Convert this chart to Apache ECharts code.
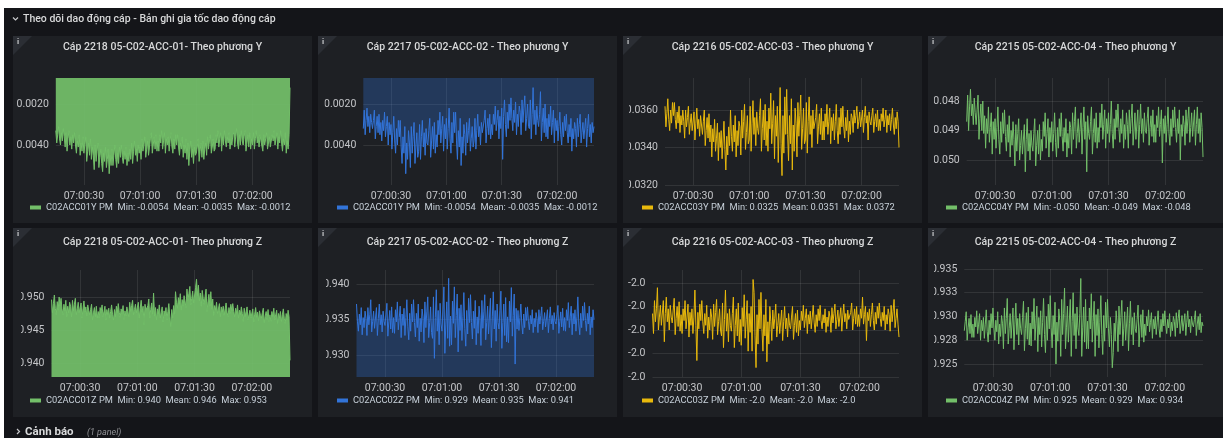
<!DOCTYPE html>
<html lang="vi">
<head>
<meta charset="utf-8">
<title>Theo dõi dao động cáp</title>
<script src="https://cdn.jsdelivr.net/npm/echarts@6/dist/echarts.min.js"></script>
<style>
  html, body { margin: 0; padding: 0; background: #ffffff; }
  #dash { width: 1223px; height: 438px; }
</style>
</head>
<body>
<div id="dash"></div>
<script>
// ---------- dashboard text ----------
const rowTitle = 'Theo dõi dao động cáp - Bản ghi gia tốc dao động cáp';
const alertRowTitle = 'Cảnh báo';
const alertRowNote = '(1 panel)';

const panelTitles = [
  'Cáp 2218 05-C02-ACC-01- Theo phương Y',
  'Cáp 2217 05-C02-ACC-02 - Theo phương Y',
  'Cáp 2216 05-C02-ACC-03 - Theo phương Y',
  'Cáp 2215 05-C02-ACC-04 - Theo phương Y',
  'Cáp 2218 05-C02-ACC-01- Theo phương Z',
  'Cáp 2217 05-C02-ACC-02 - Theo phương Z',
  'Cáp 2216 05-C02-ACC-03 - Theo phương Z',
  'Cáp 2215 05-C02-ACC-04 - Theo phương Z'
];
const seriesNames = ['C02ACC01Y PM', 'C02ACC01Y PM', 'C02ACC03Y PM', 'C02ACC04Y PM',
                     'C02ACC01Z PM', 'C02ACC02Z PM', 'C02ACC03Z PM', 'C02ACC04Z PM'];
const statMin  = ['-0.0054', '-0.0054', '0.0325', '-0.050', '0.940', '0.929', '-2.0', '0.925'];
const statMean = ['-0.0035', '-0.0035', '0.0351', '-0.049', '0.946', '0.935', '-2.0', '0.929'];
const statMax  = ['-0.0012', '-0.0012', '0.0372', '-0.048', '0.953', '0.941', '-2.0', '0.934'];

// ---------- time base: two samples per second ----------
const firstSample = '07:00:15';
const sampleStepSec = 0.5;
const timeAxisStart = '07:00:15';
const timeAxisEnd = '07:02:20';
const xTickLabels = ['07:00:30', '07:01:00', '07:01:30', '07:02:00'];

// ---------- y tick values ----------
const yTicksAcc01Y = [-0.004, -0.002];
const yTicksAcc02Y = [-0.004, -0.002];
const yTicksAcc03Y = [0.032, 0.034, 0.036];
const yTicksAcc04Y = [-0.050, -0.049, -0.048];
const yTicksAcc01Z = [0.940, 0.945, 0.950];
const yTicksAcc02Z = [0.930, 0.935, 0.940];
const yTicksAcc03Z = [-2.04, -2.02, -2.00, -1.98, -1.96];
const yTicksAcc04Z = [0.925, 0.9275, 0.930, 0.9325, 0.935];

// ---------- acceleration records (g), 10 samples = 5 s per line ----------
const acc01Y = [
  -0.0033, -0.0039, -0.0035, -0.0031, -0.0037, -0.0040, -0.0034, -0.0038, -0.0032, -0.0036,
  -0.0041, -0.0034, -0.0043, -0.0037, -0.0033, -0.0040, -0.0036, -0.0042, -0.0035, -0.0039,
  -0.0034, -0.0040, -0.0044, -0.0038, -0.0041, -0.0035, -0.0045, -0.0039, -0.0043, -0.0036,
  -0.0044, -0.0040, -0.0036, -0.0048, -0.0043, -0.0039, -0.0045, -0.0037, -0.0047, -0.0041,
  -0.0045, -0.0052, -0.0040, -0.0048, -0.0043, -0.0039, -0.0051, -0.0046, -0.0042, -0.0049,
  -0.0053, -0.0044, -0.0048, -0.0041, -0.0051, -0.0047, -0.0042, -0.0054, -0.0045, -0.0050,
  -0.0042, -0.0050, -0.0045, -0.0040, -0.0047, -0.0051, -0.0044, -0.0049, -0.0041, -0.0046,
  -0.0040, -0.0046, -0.0049, -0.0043, -0.0047, -0.0041, -0.0050, -0.0044, -0.0048, -0.0042,
  -0.0047, -0.0039, -0.0049, -0.0043, -0.0038, -0.0045, -0.0042, -0.0048, -0.0040, -0.0044,
  -0.0041, -0.0047, -0.0037, -0.0043, -0.0040, -0.0036, -0.0046, -0.0042, -0.0038, -0.0045,
  -0.0041, -0.0037, -0.0034, -0.0044, -0.0040, -0.0036, -0.0042, -0.0035, -0.0043, -0.0038,
  -0.0043, -0.0035, -0.0039, -0.0033, -0.0042, -0.0038, -0.0034, -0.0044, -0.0037, -0.0040,
  -0.0036, -0.0043, -0.0038, -0.0034, -0.0041, -0.0044, -0.0037, -0.0042, -0.0035, -0.0040,
  -0.0035, -0.0041, -0.0045, -0.0039, -0.0042, -0.0036, -0.0046, -0.0040, -0.0044, -0.0037,
  -0.0047, -0.0039, -0.0050, -0.0043, -0.0038, -0.0046, -0.0042, -0.0049, -0.0041, -0.0045,
  -0.0044, -0.0041, -0.0037, -0.0048, -0.0043, -0.0039, -0.0046, -0.0038, -0.0047, -0.0042,
  -0.0039, -0.0045, -0.0036, -0.0042, -0.0038, -0.0035, -0.0044, -0.0041, -0.0037, -0.0043,
  -0.0042, -0.0035, -0.0039, -0.0033, -0.0041, -0.0037, -0.0034, -0.0043, -0.0036, -0.0040,
  -0.0033, -0.0038, -0.0041, -0.0036, -0.0039, -0.0034, -0.0042, -0.0037, -0.0040, -0.0035,
  -0.0034, -0.0041, -0.0036, -0.0032, -0.0039, -0.0042, -0.0035, -0.0040, -0.0033, -0.0038,
  -0.0040, -0.0036, -0.0033, -0.0043, -0.0039, -0.0035, -0.0041, -0.0034, -0.0042, -0.0037,
  -0.0040, -0.0034, -0.0042, -0.0037, -0.0033, -0.0039, -0.0036, -0.0041, -0.0035, -0.0038,
  -0.0038, -0.0043, -0.0035, -0.0040, -0.0037, -0.0034, -0.0042, -0.0039, -0.0036, -0.0041,
  -0.0041, -0.0035, -0.0038, -0.0033, -0.0040, -0.0037, -0.0034, -0.0042, -0.0036, -0.0039,
  -0.0033, -0.0039, -0.0043, -0.0037, -0.0040, -0.0034, -0.0044, -0.0038, -0.0042, -0.0035,
  -0.0012
];
const acc02Y = [
  -0.0032, -0.0023, -0.0035, -0.0028, -0.0022, -0.0031, -0.0026, -0.0034, -0.0025, -0.0029,
  -0.0032, -0.0028, -0.0023, -0.0037, -0.0031, -0.0026, -0.0034, -0.0025, -0.0035, -0.0029,
  -0.0038, -0.0028, -0.0033, -0.0024, -0.0036, -0.0031, -0.0026, -0.0040, -0.0029, -0.0035,
  -0.0030, -0.0042, -0.0034, -0.0026, -0.0038, -0.0044, -0.0032, -0.0040, -0.0028, -0.0036,
  -0.0028, -0.0041, -0.0049, -0.0036, -0.0044, -0.0031, -0.0054, -0.0039, -0.0047, -0.0033,
  -0.0039, -0.0051, -0.0031, -0.0044, -0.0036, -0.0029, -0.0049, -0.0041, -0.0034, -0.0046,
  -0.0043, -0.0030, -0.0047, -0.0036, -0.0028, -0.0041, -0.0034, -0.0045, -0.0032, -0.0039,
  -0.0040, -0.0033, -0.0027, -0.0046, -0.0038, -0.0031, -0.0042, -0.0029, -0.0044, -0.0035,
  -0.0041, -0.0028, -0.0035, -0.0024, -0.0039, -0.0032, -0.0026, -0.0043, -0.0030, -0.0037,
  -0.0027, -0.0042, -0.0032, -0.0022, -0.0037, -0.0044, -0.0029, -0.0039, -0.0024, -0.0034,
  -0.0024, -0.0038, -0.0047, -0.0033, -0.0041, -0.0027, -0.0050, -0.0036, -0.0044, -0.0030,
  -0.0035, -0.0045, -0.0029, -0.0039, -0.0033, -0.0027, -0.0043, -0.0037, -0.0031, -0.0041,
  -0.0038, -0.0027, -0.0042, -0.0033, -0.0025, -0.0036, -0.0031, -0.0040, -0.0029, -0.0034,
  -0.0034, -0.0028, -0.0023, -0.0039, -0.0032, -0.0027, -0.0035, -0.0025, -0.0037, -0.0030,
  -0.0035, -0.0025, -0.0030, -0.0021, -0.0033, -0.0028, -0.0023, -0.0037, -0.0026, -0.0032,
  -0.0022, -0.0047, -0.0026, -0.0018, -0.0030, -0.0036, -0.0024, -0.0032, -0.0020, -0.0028,
  -0.0017, -0.0027, -0.0033, -0.0023, -0.0029, -0.0019, -0.0035, -0.0025, -0.0031, -0.0021,
  -0.0024, -0.0035, -0.0018, -0.0029, -0.0022, -0.0016, -0.0033, -0.0027, -0.0020, -0.0031,
  -0.0032, -0.0018, -0.0037, -0.0025, -0.0012, -0.0030, -0.0023, -0.0035, -0.0021, -0.0028,
  -0.0031, -0.0025, -0.0014, -0.0038, -0.0029, -0.0022, -0.0034, -0.0020, -0.0036, -0.0027,
  -0.0037, -0.0025, -0.0031, -0.0021, -0.0035, -0.0029, -0.0023, -0.0039, -0.0027, -0.0033,
  -0.0028, -0.0038, -0.0031, -0.0024, -0.0035, -0.0040, -0.0029, -0.0036, -0.0026, -0.0033,
  -0.0025, -0.0034, -0.0039, -0.0030, -0.0036, -0.0027, -0.0043, -0.0032, -0.0037, -0.0029,
  -0.0032, -0.0041, -0.0027, -0.0036, -0.0030, -0.0025, -0.0039, -0.0034, -0.0029, -0.0037,
  -0.0037, -0.0027, -0.0041, -0.0032, -0.0025, -0.0036, -0.0030, -0.0039, -0.0029, -0.0034,
  -0.0031
];
const acc03Y = [
  0.0362, 0.0351, 0.0358, 0.0366, 0.0355, 0.0349, 0.0360, 0.0353, 0.0364, 0.0357,
  0.0364, 0.0355, 0.0350, 0.0359, 0.0353, 0.0362, 0.0348, 0.0357, 0.0352, 0.0360,
  0.0354, 0.0345, 0.0360, 0.0351, 0.0356, 0.0362, 0.0347, 0.0353, 0.0358, 0.0349,
  0.0348, 0.0359, 0.0344, 0.0353, 0.0361, 0.0350, 0.0355, 0.0346, 0.0357, 0.0352,
  0.0347, 0.0354, 0.0360, 0.0341, 0.0349, 0.0356, 0.0345, 0.0358, 0.0343, 0.0352,
  0.0335, 0.0350, 0.0343, 0.0355, 0.0338, 0.0345, 0.0353, 0.0333, 0.0348, 0.0340,
  0.0349, 0.0334, 0.0344, 0.0354, 0.0339, 0.0328, 0.0346, 0.0336, 0.0351, 0.0341,
  0.0360, 0.0346, 0.0338, 0.0352, 0.0343, 0.0357, 0.0335, 0.0349, 0.0341, 0.0354,
  0.0351, 0.0336, 0.0360, 0.0345, 0.0354, 0.0363, 0.0339, 0.0348, 0.0357, 0.0342,
  0.0344, 0.0362, 0.0338, 0.0353, 0.0365, 0.0347, 0.0356, 0.0341, 0.0359, 0.0350,
  0.0347, 0.0357, 0.0366, 0.0338, 0.0350, 0.0360, 0.0344, 0.0363, 0.0341, 0.0354,
  0.0338, 0.0361, 0.0350, 0.0369, 0.0342, 0.0353, 0.0365, 0.0334, 0.0357, 0.0346,
  0.0362, 0.0332, 0.0352, 0.0372, 0.0342, 0.0325, 0.0357, 0.0337, 0.0367, 0.0347,
  0.0371, 0.0347, 0.0333, 0.0357, 0.0342, 0.0366, 0.0328, 0.0352, 0.0338, 0.0361,
  0.0353, 0.0335, 0.0364, 0.0346, 0.0357, 0.0368, 0.0339, 0.0350, 0.0361, 0.0342,
  0.0344, 0.0364, 0.0337, 0.0354, 0.0367, 0.0347, 0.0357, 0.0340, 0.0360, 0.0350,
  0.0349, 0.0356, 0.0363, 0.0342, 0.0351, 0.0358, 0.0347, 0.0361, 0.0344, 0.0354,
  0.0344, 0.0358, 0.0351, 0.0363, 0.0347, 0.0354, 0.0361, 0.0342, 0.0356, 0.0349,
  0.0358, 0.0344, 0.0354, 0.0363, 0.0349, 0.0342, 0.0356, 0.0347, 0.0361, 0.0351,
  0.0362, 0.0351, 0.0345, 0.0356, 0.0349, 0.0360, 0.0343, 0.0354, 0.0347, 0.0358,
  0.0356, 0.0348, 0.0360, 0.0353, 0.0357, 0.0362, 0.0350, 0.0354, 0.0359, 0.0351,
  0.0351, 0.0360, 0.0348, 0.0356, 0.0362, 0.0353, 0.0357, 0.0344, 0.0359, 0.0354,
  0.0352, 0.0357, 0.0361, 0.0348, 0.0354, 0.0358, 0.0351, 0.0360, 0.0349, 0.0355,
  0.0349, 0.0358, 0.0354, 0.0361, 0.0351, 0.0355, 0.0360, 0.0348, 0.0357, 0.0352,
  0.0358, 0.0349, 0.0355, 0.0361, 0.0352, 0.0347, 0.0356, 0.0350, 0.0359, 0.0354,
  0.0340
];
const acc04Y = [
  -0.04870, -0.04780, -0.04900, -0.04820, -0.04760, -0.04850, -0.04810, -0.04880, -0.04790, -0.04840,
  -0.04880, -0.04830, -0.04780, -0.04930, -0.04860, -0.04810, -0.04900, -0.04800, -0.04910, -0.04850,
  -0.04960, -0.04860, -0.04910, -0.04820, -0.04940, -0.04890, -0.04840, -0.04980, -0.04870, -0.04930,
  -0.04860, -0.04960, -0.04890, -0.04820, -0.04930, -0.04980, -0.04870, -0.04940, -0.04840, -0.04910,
  -0.04830, -0.04920, -0.04970, -0.04880, -0.04940, -0.04850, -0.04990, -0.04900, -0.04950, -0.04870,
  -0.04930, -0.05020, -0.04880, -0.04970, -0.04910, -0.04860, -0.05000, -0.04950, -0.04900, -0.04980,
  -0.04980, -0.04880, -0.05040, -0.04930, -0.04860, -0.04970, -0.04910, -0.05000, -0.04900, -0.04950,
  -0.04970, -0.04910, -0.04860, -0.05020, -0.04950, -0.04900, -0.04980, -0.04880, -0.05000, -0.04930,
  -0.04970, -0.04870, -0.04920, -0.04840, -0.04960, -0.04910, -0.04860, -0.04990, -0.04890, -0.04940,
  -0.04870, -0.04970, -0.04910, -0.04840, -0.04940, -0.04990, -0.04890, -0.04960, -0.04860, -0.04920,
  -0.04840, -0.04920, -0.04970, -0.04890, -0.04940, -0.04860, -0.04990, -0.04910, -0.04960, -0.04870,
  -0.04890, -0.04980, -0.04840, -0.04930, -0.04870, -0.04820, -0.04960, -0.04910, -0.04860, -0.04940,
  -0.04940, -0.04840, -0.04980, -0.04890, -0.04820, -0.04930, -0.04870, -0.05040, -0.04850, -0.04910,
  -0.04930, -0.04870, -0.04820, -0.04980, -0.04910, -0.04860, -0.04940, -0.04840, -0.04960, -0.04890,
  -0.04940, -0.04840, -0.04890, -0.04810, -0.04930, -0.04880, -0.04830, -0.04960, -0.04860, -0.04910,
  -0.04840, -0.04940, -0.04880, -0.04800, -0.04910, -0.04960, -0.04860, -0.04930, -0.04830, -0.04890,
  -0.04810, -0.04890, -0.04940, -0.04860, -0.04910, -0.04830, -0.04960, -0.04880, -0.04930, -0.04840,
  -0.04880, -0.04960, -0.04830, -0.04910, -0.04860, -0.04810, -0.04950, -0.04900, -0.04840, -0.04930,
  -0.04930, -0.04830, -0.04960, -0.04880, -0.04810, -0.04910, -0.04860, -0.04940, -0.04840, -0.04900,
  -0.04910, -0.04860, -0.04820, -0.04950, -0.04890, -0.04850, -0.04920, -0.04830, -0.04940, -0.04880,
  -0.04940, -0.04850, -0.04890, -0.04820, -0.04920, -0.04880, -0.04830, -0.05010, -0.04860, -0.04910,
  -0.04850, -0.04940, -0.04880, -0.04820, -0.04910, -0.04950, -0.04860, -0.04920, -0.04830, -0.04890,
  -0.04820, -0.04890, -0.04940, -0.04860, -0.04910, -0.04830, -0.05000, -0.04880, -0.04920, -0.04850,
  -0.04880, -0.04950, -0.04830, -0.04910, -0.04860, -0.04820, -0.04940, -0.04890, -0.04840, -0.04920,
  -0.04920, -0.04830, -0.04950, -0.04880, -0.04820, -0.04910, -0.04860, -0.04940, -0.04840, -0.04890,
  -0.04990
];
const acc01Z = [
  0.9496, 0.9476, 0.9490, 0.9503, 0.9483, 0.9473, 0.9493, 0.9480, 0.9500, 0.9486,
  0.9498, 0.9482, 0.9473, 0.9489, 0.9479, 0.9495, 0.9470, 0.9486, 0.9476, 0.9492,
  0.9486, 0.9470, 0.9495, 0.9479, 0.9489, 0.9498, 0.9473, 0.9482, 0.9492, 0.9476,
  0.9474, 0.9491, 0.9468, 0.9482, 0.9494, 0.9477, 0.9485, 0.9471, 0.9488, 0.9480,
  0.9473, 0.9481, 0.9489, 0.9465, 0.9476, 0.9484, 0.9470, 0.9486, 0.9468, 0.9478,
  0.9468, 0.9484, 0.9476, 0.9488, 0.9470, 0.9478, 0.9486, 0.9465, 0.9481, 0.9473,
  0.9483, 0.9468, 0.9478, 0.9488, 0.9473, 0.9465, 0.9481, 0.9470, 0.9486, 0.9476,
  0.9490, 0.9477, 0.9469, 0.9482, 0.9474, 0.9487, 0.9466, 0.9479, 0.9471, 0.9485,
  0.9484, 0.9470, 0.9492, 0.9478, 0.9487, 0.9495, 0.9473, 0.9481, 0.9489, 0.9476,
  0.9474, 0.9492, 0.9468, 0.9483, 0.9495, 0.9477, 0.9486, 0.9458, 0.9489, 0.9480,
  0.9478, 0.9487, 0.9497, 0.9468, 0.9481, 0.9491, 0.9474, 0.9506, 0.9471, 0.9484,
  0.9465, 0.9482, 0.9474, 0.9488, 0.9468, 0.9476, 0.9485, 0.9462, 0.9479, 0.9471,
  0.9484, 0.9465, 0.9478, 0.9490, 0.9471, 0.9455, 0.9481, 0.9468, 0.9487, 0.9474,
  0.9508, 0.9492, 0.9483, 0.9499, 0.9489, 0.9505, 0.9480, 0.9496, 0.9486, 0.9502,
  0.9502, 0.9484, 0.9512, 0.9495, 0.9505, 0.9516, 0.9488, 0.9498, 0.9509, 0.9491,
  0.9490, 0.9514, 0.9527, 0.9502, 0.9518, 0.9494, 0.9506, 0.9486, 0.9510, 0.9498,
  0.9489, 0.9501, 0.9512, 0.9478, 0.9493, 0.9504, 0.9486, 0.9508, 0.9482, 0.9497,
  0.9472, 0.9487, 0.9480, 0.9492, 0.9475, 0.9482, 0.9490, 0.9470, 0.9485, 0.9477,
  0.9486, 0.9472, 0.9482, 0.9491, 0.9477, 0.9470, 0.9484, 0.9475, 0.9489, 0.9479,
  0.9490, 0.9478, 0.9470, 0.9483, 0.9475, 0.9488, 0.9468, 0.9480, 0.9473, 0.9485,
  0.9475, 0.9463, 0.9483, 0.9470, 0.9478, 0.9485, 0.9465, 0.9473, 0.9480, 0.9468,
  0.9467, 0.9482, 0.9462, 0.9474, 0.9484, 0.9469, 0.9477, 0.9464, 0.9479, 0.9472,
  0.9468, 0.9476, 0.9483, 0.9461, 0.9471, 0.9478, 0.9466, 0.9481, 0.9463, 0.9473,
  0.9463, 0.9478, 0.9470, 0.9483, 0.9465, 0.9473, 0.9480, 0.9460, 0.9475, 0.9468,
  0.9478, 0.9463, 0.9473, 0.9482, 0.9468, 0.9460, 0.9475, 0.9465, 0.9480, 0.9470,
  0.9404
];
const acc02Z = [
  0.9372, 0.9348, 0.9334, 0.9358, 0.9343, 0.9367, 0.9329, 0.9353, 0.9339, 0.9362,
  0.9352, 0.9328, 0.9367, 0.9343, 0.9357, 0.9378, 0.9333, 0.9348, 0.9362, 0.9338,
  0.9338, 0.9367, 0.9328, 0.9352, 0.9372, 0.9343, 0.9357, 0.9333, 0.9362, 0.9348,
  0.9342, 0.9358, 0.9373, 0.9327, 0.9347, 0.9363, 0.9337, 0.9368, 0.9332, 0.9353,
  0.9331, 0.9364, 0.9347, 0.9375, 0.9336, 0.9353, 0.9369, 0.9325, 0.9358, 0.9342,
  0.9366, 0.9328, 0.9353, 0.9378, 0.9341, 0.9322, 0.9359, 0.9334, 0.9372, 0.9347,
  0.9378, 0.9346, 0.9326, 0.9359, 0.9339, 0.9372, 0.9320, 0.9352, 0.9333, 0.9365,
  0.9354, 0.9318, 0.9375, 0.9339, 0.9361, 0.9382, 0.9325, 0.9346, 0.9368, 0.9332,
  0.9324, 0.9382, 0.9296, 0.9353, 0.9392, 0.9334, 0.9363, 0.9315, 0.9373, 0.9344,
  0.9334, 0.9365, 0.9396, 0.9303, 0.9344, 0.9375, 0.9324, 0.9408, 0.9313, 0.9355,
  0.9315, 0.9376, 0.9345, 0.9396, 0.9325, 0.9356, 0.9386, 0.9305, 0.9366, 0.9335,
  0.9371, 0.9321, 0.9355, 0.9388, 0.9338, 0.9313, 0.9363, 0.9330, 0.9380, 0.9346,
  0.9385, 0.9346, 0.9323, 0.9362, 0.9338, 0.9377, 0.9315, 0.9354, 0.9331, 0.9369,
  0.9353, 0.9314, 0.9377, 0.9338, 0.9361, 0.9385, 0.9322, 0.9346, 0.9369, 0.9330,
  0.9328, 0.9380, 0.9311, 0.9354, 0.9389, 0.9337, 0.9363, 0.9320, 0.9372, 0.9346,
  0.9337, 0.9363, 0.9390, 0.9310, 0.9346, 0.9372, 0.9328, 0.9381, 0.9319, 0.9354,
  0.9318, 0.9376, 0.9347, 0.9395, 0.9327, 0.9356, 0.9386, 0.9288, 0.9366, 0.9337,
  0.9363, 0.9335, 0.9353, 0.9372, 0.9344, 0.9330, 0.9358, 0.9339, 0.9367, 0.9349,
  0.9368, 0.9348, 0.9336, 0.9356, 0.9344, 0.9364, 0.9332, 0.9352, 0.9340, 0.9360,
  0.9352, 0.9332, 0.9364, 0.9344, 0.9356, 0.9368, 0.9336, 0.9348, 0.9360, 0.9340,
  0.9340, 0.9364, 0.9332, 0.9352, 0.9368, 0.9344, 0.9356, 0.9336, 0.9360, 0.9348,
  0.9344, 0.9357, 0.9370, 0.9331, 0.9348, 0.9361, 0.9340, 0.9366, 0.9335, 0.9353,
  0.9334, 0.9364, 0.9349, 0.9374, 0.9339, 0.9354, 0.9369, 0.9329, 0.9359, 0.9344,
  0.9364, 0.9334, 0.9354, 0.9382, 0.9344, 0.9329, 0.9359, 0.9339, 0.9369, 0.9349,
  0.9374, 0.9349, 0.9334, 0.9359, 0.9344, 0.9369, 0.9329, 0.9354, 0.9339, 0.9364,
  0.9350
];
const acc03Z = [
  -1.986, -2.003, -1.975, -1.993, -1.982, -1.964, -2.000, -1.989, -1.979, -1.996,
  -1.996, -1.975, -2.010, -1.986, -1.972, -1.993, -1.982, -2.000, -1.979, -1.989,
  -1.994, -1.983, -1.973, -2.004, -1.990, -1.980, -1.997, -1.976, -2.001, -1.987,
  -2.003, -1.982, -1.992, -1.975, -1.999, -1.989, -1.978, -2.006, -1.985, -1.996,
  -1.982, -2.003, -1.989, -1.966, -1.996, -2.026, -1.985, -1.999, -1.978, -1.992,
  -1.975, -1.993, -2.003, -1.986, -1.996, -1.979, -2.007, -1.989, -2.000, -1.982,
  -1.989, -2.008, -1.978, -1.997, -1.985, -1.974, -2.004, -1.993, -1.982, -2.000,
  -2.005, -1.977, -2.015, -1.991, -1.966, -2.001, -1.986, -2.010, -1.982, -1.996,
  -2.001, -1.986, -1.972, -2.015, -1.996, -1.982, -2.005, -1.977, -2.010, -1.991,
  -2.013, -1.981, -1.997, -1.970, -2.007, -1.991, -1.975, -2.018, -1.986, -2.002,
  -1.980, -2.018, -1.957, -1.968, -2.005, -2.032, -1.987, -2.012, -1.974, -1.999,
  -1.968, -1.999, -2.018, -1.987, -2.005, -1.974, -2.027, -1.993, -2.012, -1.980,
  -1.993, -2.009, -1.983, -1.999, -1.990, -1.978, -2.006, -1.996, -1.986, -2.003,
  -2.003, -1.983, -2.009, -1.993, -1.980, -1.999, -1.990, -2.006, -1.986, -1.996,
  -1.999, -1.989, -1.980, -2.008, -1.996, -1.986, -2.002, -1.983, -2.005, -1.992,
  -2.000, -1.984, -1.992, -1.979, -1.998, -1.990, -1.982, -2.003, -1.987, -1.995,
  -1.984, -1.999, -1.989, -1.979, -1.994, -2.002, -1.987, -1.997, -1.982, -1.992,
  -1.979, -1.992, -1.999, -1.987, -1.994, -1.982, -2.002, -1.989, -1.997, -1.984,
  -1.989, -2.002, -1.981, -1.994, -1.986, -1.978, -1.999, -1.991, -1.983, -1.997,
  -1.996, -1.981, -2.001, -1.988, -1.978, -1.993, -1.986, -1.999, -1.983, -1.991,
  -1.992, -1.985, -1.977, -2.000, -1.990, -1.982, -1.995, -1.980, -1.997, -1.987,
  -1.997, -1.982, -1.990, -1.972, -1.995, -1.987, -1.980, -2.009, -1.985, -1.992,
  -1.982, -1.997, -1.987, -1.977, -1.992, -2.000, -1.985, -1.995, -1.980, -1.990,
  -1.977, -1.990, -1.997, -1.985, -1.992, -1.980, -2.000, -1.987, -1.995, -1.982,
  -1.987, -2.001, -1.979, -1.993, -1.984, -1.974, -1.998, -1.990, -1.982, -1.995,
  -2.006
];
const acc04Z = [
  0.9285, 0.9295, 0.9305, 0.9275, 0.9288, 0.9298, 0.9282, 0.9302, 0.9278, 0.9292,
  0.9278, 0.9299, 0.9289, 0.9306, 0.9282, 0.9292, 0.9303, 0.9275, 0.9296, 0.9285,
  0.9299, 0.9277, 0.9292, 0.9307, 0.9284, 0.9273, 0.9296, 0.9281, 0.9303, 0.9288,
  0.9309, 0.9288, 0.9275, 0.9296, 0.9284, 0.9305, 0.9271, 0.9292, 0.9279, 0.9301,
  0.9293, 0.9266, 0.9309, 0.9282, 0.9298, 0.9319, 0.9271, 0.9287, 0.9303, 0.9277,
  0.9276, 0.9309, 0.9265, 0.9292, 0.9314, 0.9281, 0.9298, 0.9270, 0.9303, 0.9287,
  0.9281, 0.9299, 0.9316, 0.9264, 0.9287, 0.9304, 0.9276, 0.9310, 0.9270, 0.9293,
  0.9269, 0.9305, 0.9287, 0.9319, 0.9275, 0.9293, 0.9311, 0.9263, 0.9299, 0.9281,
  0.9306, 0.9268, 0.9294, 0.9319, 0.9281, 0.9262, 0.9300, 0.9275, 0.9313, 0.9287,
  0.9322, 0.9288, 0.9267, 0.9301, 0.9281, 0.9315, 0.9250, 0.9294, 0.9274, 0.9308,
  0.9296, 0.9258, 0.9318, 0.9281, 0.9303, 0.9330, 0.9266, 0.9288, 0.9311, 0.9273,
  0.9273, 0.9318, 0.9258, 0.9295, 0.9325, 0.9280, 0.9303, 0.9266, 0.9310, 0.9288,
  0.9280, 0.9303, 0.9340, 0.9258, 0.9288, 0.9310, 0.9273, 0.9318, 0.9266, 0.9295,
  0.9266, 0.9309, 0.9287, 0.9324, 0.9273, 0.9295, 0.9316, 0.9258, 0.9302, 0.9280,
  0.9308, 0.9267, 0.9294, 0.9322, 0.9281, 0.9260, 0.9301, 0.9274, 0.9315, 0.9288,
  0.9318, 0.9287, 0.9268, 0.9299, 0.9281, 0.9246, 0.9262, 0.9293, 0.9274, 0.9306,
  0.9293, 0.9263, 0.9311, 0.9281, 0.9299, 0.9317, 0.9269, 0.9287, 0.9305, 0.9275,
  0.9276, 0.9310, 0.9264, 0.9293, 0.9316, 0.9281, 0.9299, 0.9270, 0.9304, 0.9287,
  0.9283, 0.9297, 0.9312, 0.9268, 0.9288, 0.9302, 0.9278, 0.9307, 0.9273, 0.9292,
  0.9280, 0.9300, 0.9290, 0.9307, 0.9284, 0.9294, 0.9304, 0.9277, 0.9297, 0.9287,
  0.9300, 0.9281, 0.9294, 0.9306, 0.9287, 0.9278, 0.9297, 0.9284, 0.9303, 0.9290,
  0.9306, 0.9291, 0.9282, 0.9297, 0.9288, 0.9303, 0.9279, 0.9294, 0.9285, 0.9300,
  0.9295, 0.9279, 0.9304, 0.9288, 0.9298, 0.9307, 0.9282, 0.9291, 0.9301, 0.9285,
  0.9286, 0.9303, 0.9280, 0.9294, 0.9306, 0.9289, 0.9297, 0.9283, 0.9300, 0.9292,
  0.9289, 0.9297, 0.9306, 0.9280, 0.9292, 0.9300, 0.9286, 0.9303, 0.9283, 0.9294,
  0.9290
];

// ---------- look ----------
const FONT = 'Roboto, "Noto Sans", "DejaVu Sans", sans-serif';
const PAGE_BG = '#141519';
const PANEL_BG = '#1e2024';
const GRID_LINE = 'rgba(255,255,255,0.09)';
const TEXT = '#d8d9da';
const AXIS_TEXT = '#c4c5c8';
const GREEN = '#73bf69';
const BLUE = '#3274d9';
const YELLOW = '#e8b90c';

// panel frame [x, y, w, h], plot rect [left, top, width, height], value range,
// label decimals, and how far the panel padding reaches over the tick labels
const panels = [
  { box: [13, 36, 299, 187],  plot: [55.8, 78, 234.2, 107],  range: [-0.00595, -0.000732], ticks: yTicksAcc01Y, dec: 4, pad: 4,
    values: acc01Y, color: GREEN,  area: { origin: 'end', opacity: 0.93 }, titleY: 47, legend: [30, 209] },
  { box: [318, 36, 299, 187], plot: [363.3, 78, 230.7, 107], range: [-0.00595, -0.000732], ticks: yTicksAcc02Y, dec: 4, pad: 6.5,
    values: acc02Y, color: BLUE,   area: { origin: 'end', opacity: 0.3 },  titleY: 47, legend: [337, 209] },
  { box: [623, 36, 299, 187], plot: [665, 78, 234, 107],     range: [0.032, 0.037707],     ticks: yTicksAcc03Y, dec: 4, pad: 6,
    values: acc03Y, color: YELLOW, area: null, titleY: 47, legend: [642, 209] },
  { box: [928, 36, 295, 187], plot: [966.7, 78, 236.3, 107], range: [-0.050847, -0.04722], ticks: yTicksAcc04Y, dec: 3, pad: 6,
    values: acc04Y, color: GREEN,  area: null, titleY: 47, legend: [946, 209] },
  { box: [13, 228, 299, 189],  plot: [51.5, 270, 238.5, 107],  range: [0.93788, 0.95409], ticks: yTicksAcc01Z, dec: 3, pad: 8,
    values: acc01Z, color: GREEN,  area: { origin: 'start', opacity: 0.93 }, titleY: 242, legend: [30, 402] },
  { box: [318, 228, 299, 189], plot: [356.5, 270, 237.5, 107], range: [0.92699, 0.94196], ticks: yTicksAcc02Z, dec: 3, pad: 8,
    values: acc02Z, color: BLUE,   area: { origin: 'start', opacity: 0.3 },  titleY: 242, legend: [337, 402] },
  { box: [623, 228, 299, 189], plot: [652.5, 270, 246.5, 107], range: [-2.04, -1.94894],  ticks: yTicksAcc03Z, dec: 1, pad: 4,
    values: acc03Z, color: YELLOW, area: null, titleY: 242, legend: [642, 402] },
  { box: [928, 228, 295, 189], plot: [964.3, 269, 238.7, 108], range: [0.92363, 0.935],   ticks: yTicksAcc04Z, dec: 3, pad: 6,
    values: acc04Z, color: GREEN,  area: null, titleY: 242, legend: [946, 402] }
];

// ---------- helpers ----------
function clock(s) {
  const p = s.split(':').map(Number);
  return new Date(2021, 5, 1, p[0], p[1], p[2]).getTime();
}
function two(n) { return String(n).padStart(2, '0'); }
function hms(ms) {
  const d = new Date(ms);
  return two(d.getHours()) + ':' + two(d.getMinutes()) + ':' + two(d.getSeconds());
}
function fixed(v, d) {
  const p = Math.pow(10, d);
  return (Math.round(v * p + (v >= 0 ? 1e-6 : -1e-6)) / p).toFixed(d);
}

const t0 = clock(firstSample);
const xMin = clock(timeAxisStart);
const xMax = clock(timeAxisEnd);
const xTicks = xTickLabels.map(clock);

// ---------- components ----------
const grids = [], xAxes = [], yAxes = [], series = [], legends = [];
const graphics = [
  { type: 'rect', z: -30, silent: true, shape: { x: 4, y: 8, width: 1219, height: 430 }, style: { fill: PAGE_BG } },
  { type: 'polyline', z: 5, silent: true, shape: { points: [[13, 17.5], [15.5, 20], [18, 17.5]] },
    style: { stroke: '#c8c9cc', lineWidth: 1.2, fill: null } },
  { type: 'text', z: 5, silent: true, x: 23, y: 19.5,
    style: { text: rowTitle, fill: TEXT, fontSize: 10.5, fontWeight: 500, fontFamily: FONT, verticalAlign: 'middle', textVerticalAlign: 'middle' } },
  { type: 'polyline', z: 5, silent: true, shape: { points: [[17, 429], [19.5, 431.5], [17, 434]] },
    style: { stroke: '#c8c9cc', lineWidth: 1.2, fill: null } },
  { type: 'text', z: 5, silent: true, x: 25, y: 432,
    style: { text: alertRowTitle, fill: TEXT, fontSize: 11.5, fontWeight: 'bold', fontFamily: FONT, verticalAlign: 'middle', textVerticalAlign: 'middle' } },
  { type: 'text', z: 5, silent: true, x: 87, y: 432.5,
    style: { text: alertRowNote, fill: '#8e8f93', fontSize: 9, fontStyle: 'italic', fontFamily: FONT, verticalAlign: 'middle', textVerticalAlign: 'middle' } }
];

panels.forEach(function (P, k) {
  const bx = P.box[0], by = P.box[1], bw = P.box[2], bh = P.box[3];

  graphics.push(
    { type: 'rect', z: -20, silent: true, shape: { x: bx, y: by, width: bw, height: bh }, style: { fill: PANEL_BG } },
    { type: 'polygon', z: -15, silent: true, shape: { points: [[bx, by], [bx + 19, by], [bx, by + 19]] }, style: { fill: '#2b2e34' } },
    { type: 'text', z: -14, silent: true, x: bx + 5, y: by + 5.5,
      style: { text: 'i', fill: '#c8c9cc', fontSize: 8, fontWeight: 'bold', fontFamily: FONT, align: 'center', textAlign: 'center', verticalAlign: 'middle', textVerticalAlign: 'middle' } },
    { type: 'text', z: 5, silent: true, x: bx + bw / 2, y: P.titleY,
      style: { text: panelTitles[k], fill: TEXT, fontSize: 10.5, fontWeight: 500, fontFamily: FONT, align: 'center', textAlign: 'center', verticalAlign: 'middle', textVerticalAlign: 'middle' } },
    // the panel padding hides whatever spills past it on the left
    { type: 'rect', z: 100, silent: true, shape: { x: bx, y: P.plot[1] - 9, width: P.pad, height: P.plot[3] + 18 }, style: { fill: PANEL_BG } }
  );

  grids.push({ left: P.plot[0], top: P.plot[1], width: P.plot[2], height: P.plot[3], containLabel: false, show: false });

  // time of day in milliseconds on a plain value axis, labelled as HH:mm:ss
  xAxes.push({
    type: 'value', gridIndex: k, min: xMin, max: xMax, scale: true,
    axisLine: { show: false },
    axisTick: { show: false, customValues: xTicks },
    splitLine: { show: true, lineStyle: { color: GRID_LINE, width: 1 } },
    axisLabel: {
      customValues: xTicks, margin: 6, color: AXIS_TEXT, fontSize: 10.5, fontFamily: FONT,
      formatter: function (v) { return hms(v); }
    }
  });

  yAxes.push({
    type: 'value', gridIndex: k, min: P.range[0], max: P.range[1], scale: true,
    axisLine: { show: false },
    axisTick: { show: false, customValues: P.ticks },
    splitLine: { show: true, lineStyle: { color: GRID_LINE, width: 1 } },
    axisLabel: {
      customValues: P.ticks, margin: 7, color: AXIS_TEXT, fontSize: 10.5, fontFamily: FONT,
      formatter: function (v) { return fixed(v, P.dec); }
    }
  });

  const s = {
    type: 'line', name: seriesNames[k], xAxisIndex: k, yAxisIndex: k,
    data: P.values.map(function (v, i) { return [t0 + i * sampleStepSec * 1000, v]; }),
    symbol: 'none', showSymbol: false, clip: true, animation: false,
    lineStyle: { width: 1, color: P.color },
    itemStyle: { color: P.color },
    emphasis: { disabled: true }
  };
  if (P.area) s.areaStyle = { origin: P.area.origin, color: P.color, opacity: P.area.opacity };
  series.push(s);

  legends.push({
    left: P.legend[0], top: P.legend[1] - 6, padding: 0, itemGap: 0,
    itemWidth: 11, itemHeight: 4, icon: 'rect', selectedMode: false,
    data: [{ name: seriesNames[k], icon: 'rect', itemStyle: { color: P.color } }],
    formatter: function () {
      return seriesNames[k] + '  Min: ' + statMin[k] + '  Mean: ' + statMean[k] + '  Max: ' + statMax[k];
    },
    textStyle: { color: '#c7d0d9', fontSize: 9.3, fontFamily: FONT }
  });
});

const chart = echarts.init(document.getElementById('dash'), null, { renderer: 'canvas', width: 1223, height: 438 });
chart.setOption({
  backgroundColor: '#ffffff',
  animation: false,
  textStyle: { fontFamily: FONT },
  grid: grids,
  xAxis: xAxes,
  yAxis: yAxes,
  series: series,
  legend: legends,
  graphic: { elements: graphics }
});
</script>
</body>
</html>
